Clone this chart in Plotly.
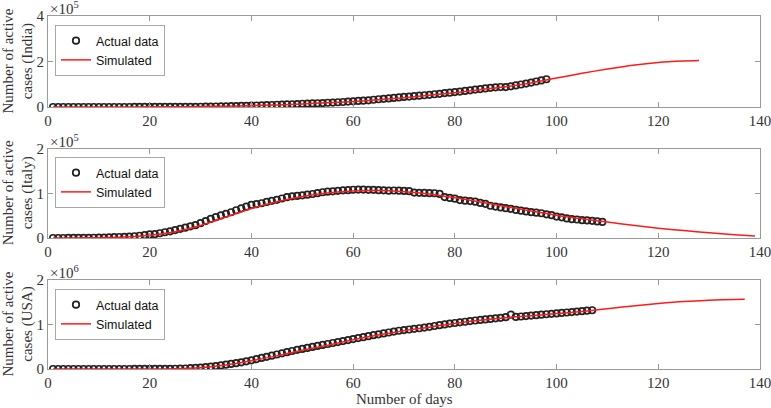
import plotly.graph_objects as go

# ---------------- data ----------------
india_days = list(range(1, 99))
india_actual = [3, 5, 5, 25, 27, 28, 31, 36, 40, 45,
                55, 65, 75, 82, 96, 106, 122, 150, 180, 215,
                280, 330, 380, 440, 520, 600, 700, 820, 950, 1100,
                1400, 1800, 2100, 2500, 2900, 3500, 4200, 4700, 5300, 6000,
                6600, 7200, 7900, 8900, 9900, 10500, 11200, 12000, 13000, 14200,
                15000, 15800, 16500, 17300, 18600, 19500, 20800, 22000, 23700, 25000,
                26500, 27900, 29500, 31900, 34000, 36000, 37900, 39900, 42000, 44200,
                46000, 48000, 50000, 51700, 53500, 56000, 58000, 61000, 63000, 65500,
                68000, 70500, 73500, 76800, 79000, 81500, 84500, 86500, 88000, 87500,
                91000, 95000, 99000, 103000, 107500, 112000, 117000, 122000]
india_sim_days = [1, 5, 10, 15, 20, 25, 30, 35, 40, 45, 50, 55, 60, 65, 70, 75, 80,
                  85, 90, 95, 100, 105, 110, 115, 120, 125, 128]
india_sim = [0, 100, 200, 350, 600, 1200, 2200, 3800, 6000, 9000, 13500, 18500, 24000,
             31500, 41000, 51500, 63000, 76000, 89000, 106000, 127000, 148000, 167000,
             184000, 196000, 202000, 204000]

italy_days = list(range(1, 110))
italy_actual = [3, 3, 19, 76, 150, 221, 311, 385, 588, 821,
                1049, 1577, 1835, 2263, 2706, 3296, 3916, 5061, 6387, 7985,
                8514, 10590, 12839, 14955, 17750, 20603, 23073, 26062, 28710, 33190,
                37860, 42681, 46638, 50418, 54030, 57521, 62013, 66414, 70065, 73880,
                75528, 77635, 80572, 83049, 85388, 88274, 91246, 93187, 94067, 95262,
                96877, 98273, 100269, 102253, 103616, 104291, 105418, 106607, 106962, 107771,
                108257, 108237, 107709, 107699, 106848, 106527, 105847, 106103, 105813, 105205,
                104657, 101551, 100943, 100704, 100179, 99980, 98467, 91528, 89624, 87961,
                84842, 83324, 82488, 81266, 78457, 76440, 72070, 70187, 68351, 66553,
                65129, 62752, 60960, 59322, 57752, 56594, 55300, 52942, 50966, 47986,
                46175, 43691, 42075, 41367, 39893, 39297, 38429, 36976, 35877]
italy_sim_days = [1, 5, 10, 15, 20, 25, 30, 35, 40, 45, 50, 55, 60, 65, 70, 75, 80, 85,
                  90, 95, 100, 105, 110, 115, 120, 125, 130, 135, 139]
italy_sim = [0, 150, 600, 2000, 6000, 14000, 28000, 47000, 66000, 81000, 92500, 100500,
             105000, 106000, 103500, 98500, 90000, 80500, 70000, 60500, 51000, 43000,
             35500, 28500, 22000, 16500, 11500, 7500, 4500]

usa_days = list(range(1, 108))
usa_actual = [20, 25, 30, 35, 40, 45, 50, 60,
              70, 80, 100, 130, 200, 250, 330, 450, 600, 900,
              1200, 1600, 2100, 2700, 3400, 4500, 6000, 7600, 11000, 18000,
              25000, 32000, 42000, 52000, 65000, 80000, 97000, 115000, 132000, 150000,
              172000, 195000, 222000, 248000, 274000, 300000, 326000, 352000, 378000, 404000,
              430000, 452000, 474000, 496000, 518000, 540000, 562000, 584000, 606000, 628000,
              650000, 672000, 694000, 716000, 738000, 760000, 780000, 800000, 820000, 840000,
              860000, 874000, 888000, 902000, 916000, 930000, 948000, 966000, 984000, 1002000,
              1020000, 1034000, 1048000, 1062000, 1076000, 1090000, 1102000, 1114000, 1126000, 1138000,
              1150000, 1165000, 1220000, 1170000, 1180000, 1190000, 1200000, 1210000, 1220000, 1230000,
              1240000, 1250000, 1260000, 1270000, 1280000, 1290000, 1300000, 1310000, 1320000]
usa_sim_days = [1, 10, 20, 25, 30, 35, 40, 45, 50, 55, 60, 65, 70, 75, 80, 85, 90, 95,
                100, 105, 110, 115, 120, 125, 130, 135, 137]
usa_sim = [0, 300, 2000, 8000, 30000, 90000, 185000, 295000, 420000, 535000, 655000,
           765000, 862000, 940000, 1025000, 1093000, 1152000, 1195000, 1245000, 1292000,
           1355000, 1418000, 1470000, 1515000, 1545000, 1562000, 1566000]

x_ticks = [0, 20, 40, 60, 80, 100, 120, 140]
panels = [
    # name, days, actual, sim days, sim, ymax, tickvals, ticktext, exponent
    ("India", india_days, india_actual, india_sim_days, india_sim, 4e5,
     [0, 2e5, 4e5], ["0", "2", "4"], "5"),
    ("Italy", italy_days, italy_actual, italy_sim_days, italy_sim, 2e5,
     [0, 1e5, 2e5], ["0", "1", "2"], "5"),
    ("USA", usa_days, usa_actual, usa_sim_days, usa_sim, 2e6,
     [0, 1e6, 2e6], ["0", "1", "2"], "6"),
]

# ---------------- figure ----------------
W, H = 771, 408
ML, MR, MT, MB = 48, 11, 16, 39
PH = H - MT - MB
def py(px):  # pixel y -> paper fraction
    return (H - MB - px) / PH
def px_x(px):
    return (px - ML) / (W - ML - MR)

domains = [[py(107), 1.0], [py(238), py(148.5)], [0.0, py(280)]]
legend_tops = [25, 157, 289]

serif = "Liberation Serif"
axis_col = "#9a9a9a"
txt_col = "#333333"
FS = 15

fig = go.Figure()
layout = dict(width=W, height=H,
              margin=dict(l=ML, r=MR, t=MT, b=MB, autoexpand=False),
              plot_bgcolor="white", paper_bgcolor="white", showlegend=True,
              annotations=[])

for i, (name, d, a, sd, s, ymax, tv, tt, ex) in enumerate(panels):
    k = "" if i == 0 else str(i + 1)
    leg = "legend" if i == 0 else "legend" + str(i + 1)
    fig.add_trace(go.Scatter(x=d, y=a, mode="markers", name="Actual data",
                             xaxis="x" + k, yaxis="y" + k, legend=leg,
                             marker=dict(symbol="circle-open", size=6.5, color="#222222",
                                         line=dict(width=1.7, color="#222222"))))
    fig.add_trace(go.Scatter(x=sd, y=s, mode="lines", name="Simulated",
                             xaxis="x" + k, yaxis="y" + k, legend=leg,
                             line=dict(color="#ff1a1a", width=1.5, shape="spline", smoothing=0.8)))
    layout["xaxis" + k] = dict(domain=[0, 1], anchor="y" + k, range=[0, 140],
                               tickvals=x_ticks, ticks="inside", ticklen=5,
                               tickcolor=axis_col, showline=True, linecolor=axis_col,
                               linewidth=1, mirror="ticks", showgrid=False, zeroline=False,
                               automargin=False, ticklabeloverflow="allow",
                               tickfont=dict(family=serif, size=FS, color=txt_col))
    layout["yaxis" + k] = dict(domain=domains[i], anchor="x" + k, range=[0, ymax],
                               tickvals=tv, ticktext=tt, ticks="inside", ticklen=5,
                               tickcolor=axis_col, showline=True, linecolor=axis_col,
                               linewidth=1, mirror="ticks", showgrid=False, zeroline=False,
                               automargin=False, ticklabeloverflow="allow",
                               tickfont=dict(family=serif, size=FS, color=txt_col))
    layout[leg] = dict(x=px_x(55), y=py(legend_tops[i]), xanchor="left", yanchor="top",
                       bgcolor="white", bordercolor="#a8a8a8", borderwidth=1,
                       font=dict(family="Liberation Sans", size=12.5, color="#111111"),
                       tracegroupgap=0, itemwidth=30)
    # exponent label
    layout["annotations"].append(dict(
        x=0, y=domains[i][1], xref="paper", yref="paper", xanchor="left", yanchor="bottom",
        text="×10<sup>" + ex + "</sup>", showarrow=False, yshift=-3,
        font=dict(family=serif, size=FS, color=txt_col)))
    # y title
    layout["annotations"].append(dict(
        x=px_x(18), y=(domains[i][0] + domains[i][1]) / 2, xref="paper", yref="paper",
        xanchor="center", yanchor="middle", textangle=-90, showarrow=False,
        text="Number of active<br>cases (" + name + ")",
        font=dict(family=serif, size=FS, color=txt_col)))

layout["annotations"].append(dict(
    x=0.5, y=0.0, xref="paper", yref="paper", xanchor="center", yanchor="top",
    yshift=-20, text="Number of days", showarrow=False,
    font=dict(family=serif, size=FS, color=txt_col)))

fig.update_layout(**layout)
fig.write_html("out.html", config={"displayModeBar": False},
               post_script="document.body.style.margin='0';document.body.style.padding='0';")
